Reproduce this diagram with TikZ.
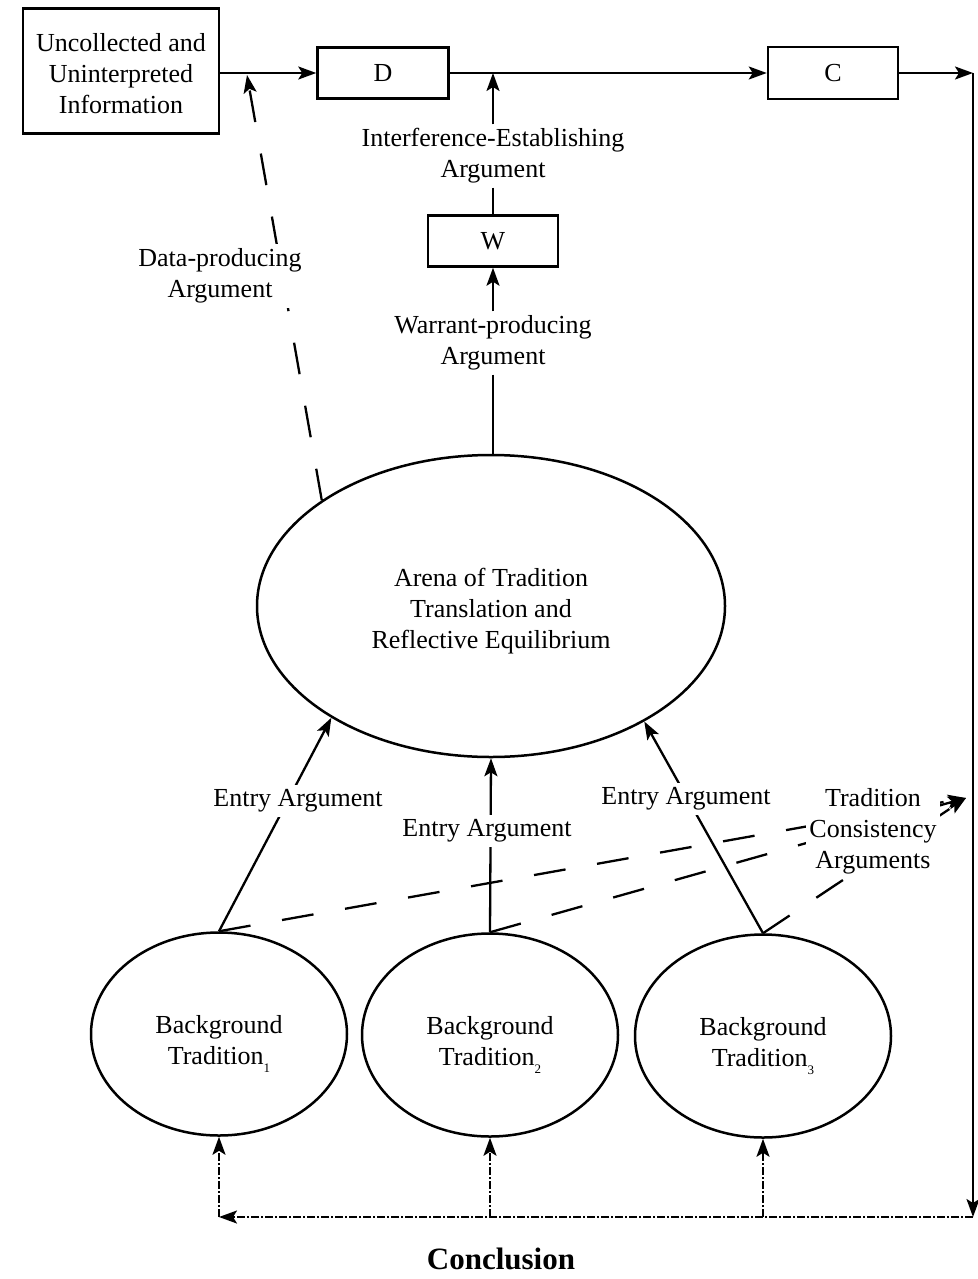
\documentclass[tikz,border=0pt]{standalone}
\usepackage{fontspec}
\setmainfont{Liberation Serif}
\usetikzlibrary{arrows.meta,shapes.geometric}
\newcommand{\tsub}[1]{\raisebox{-8pt}[0pt][0pt]{\fontsize{13}{13}\selectfont #1}}
\begin{document}
\begin{tikzpicture}[x=1pt,y=-1pt,
  font=\fontsize{26}{31}\selectfont,
  >={Stealth[length=18pt,width=13pt,inset=4pt]},
  box/.style={draw,rectangle,line width=2.5pt,inner sep=0pt,align=center},
  oval/.style={draw,ellipse,line width=2.5pt,inner sep=0pt},
  txt/.style={align=center,inner sep=0pt},
  lab/.style={fill=white,align=center,inner sep=5pt},
  link/.style={line width=2.3pt},
  longdash/.style={dash pattern=on 32pt off 32pt},
  feedback/.style={dash pattern=on 8pt off 2pt on 2pt off 2pt}]
\useasboundingbox (0,0) rectangle (977,1279);

% boxes of the argument chain
\node[box,minimum width=196pt,minimum height=125pt] (info) at (121,71) {};
\node[txt] (infotext) at (121,74) {Uncollected and\\Uninterpreted\\Information};
\node[box,minimum width=131pt,minimum height=51pt] (D) at (383,73) {D};
\node[box,minimum width=130pt,minimum height=52pt] (C) at (833,73) {C};
\node[box,minimum width=130pt,minimum height=51pt] (W) at (493,241) {W};

% arena and background traditions
\node[oval,minimum width=468pt,minimum height=302pt] (arena) at (491,606) {};
\node[txt] (arenatext) at (491,611)
  {Arena of Tradition\\Translation and\\Reflective Equilibrium};
\node[oval,minimum width=256pt,minimum height=203pt] (bg1) at (219,1034) {};
\node[oval,minimum width=256pt,minimum height=203pt] (bg2) at (490,1035) {};
\node[oval,minimum width=256pt,minimum height=203pt] (bg3) at (763,1036) {};
\node[txt] (bg1text) at (219,1040) {Background\\Tradition\tsub{1}};
\node[txt] (bg2text) at (490,1041) {Background\\Tradition\tsub{2}};
\node[txt] (bg3text) at (763,1042) {Background\\Tradition\tsub{3}};

% labels that also serve as connector ends
\node[align=center,inner sep=4pt] (ielab) at (493,156)
  {Interference-Establishing\\Argument};
\node[align=center,inner sep=4pt] (wplab) at (493,343)
  {Warrant-producing\\Argument};

% corner points of the feedback loop
\coordinate (tr) at (973,73);
\coordinate (br) at (973,1217);
\coordinate (dp) at (247,75);
\coordinate (tc) at (966,798);

% main chain
\draw[link,->] (info.east |- D.west) -- (D.west);
\draw[link,->] (D.east) -- (C.west);
\draw[link,->] (C.east) -- (tr);
\draw[link,->] (tr) -- (br);

% conclusion fed back to the traditions
\draw[link,feedback,->] (br) -- (bg1.south |- br);
\draw[link,feedback,->] (bg1.south |- br) -- (bg1.south);
\draw[link,feedback,->] (bg2.south |- br) -- (bg2.south);
\draw[link,feedback,->] (bg3.south |- br) -- (bg3.south);

% warrant and inference
\draw[link,->] (ielab.north) -- (ielab.north |- D.east);
\draw[link] (ielab.south) -- (W.north);
\draw[link,->] (wplab.north) -- (W.south);
\draw[link] (wplab.south) -- (wplab.south |- arena.north);

% data-producing argument
\draw[link,longdash,->] (arena.148) -- (dp);

% entry arguments
\draw[link,->] (bg1.north) -- (arena.215);
\draw[link,->] (bg2.north) -- (arena.south);
\draw[link,->] (bg3.north) -- (arena.323);

% tradition consistency arguments
\draw[link,longdash,->] (bg1.north) -- (tc);
\draw[link,longdash,->] (bg2.north) -- (tc);
\draw[link,longdash,->] (bg3.north) -- (tc);

% labels laid over the lines
\node[lab] (dplab) at (220,276) {Data-producing\\Argument};
\node[lab] (ea1) at (298,801) {Entry Argument};
\node[lab] (ea2) at (487,831) {Entry Argument};
\node[lab] (ea3) at (686,799) {Entry Argument};
\node[lab,inner sep=3pt] (tclab) at (873,831) {Tradition\\Consistency\\Arguments};
\node[font=\bfseries\fontsize{31}{31}\selectfont,inner sep=0pt] (concl) at (501,1259) {Conclusion};
\end{tikzpicture}
\end{document}
